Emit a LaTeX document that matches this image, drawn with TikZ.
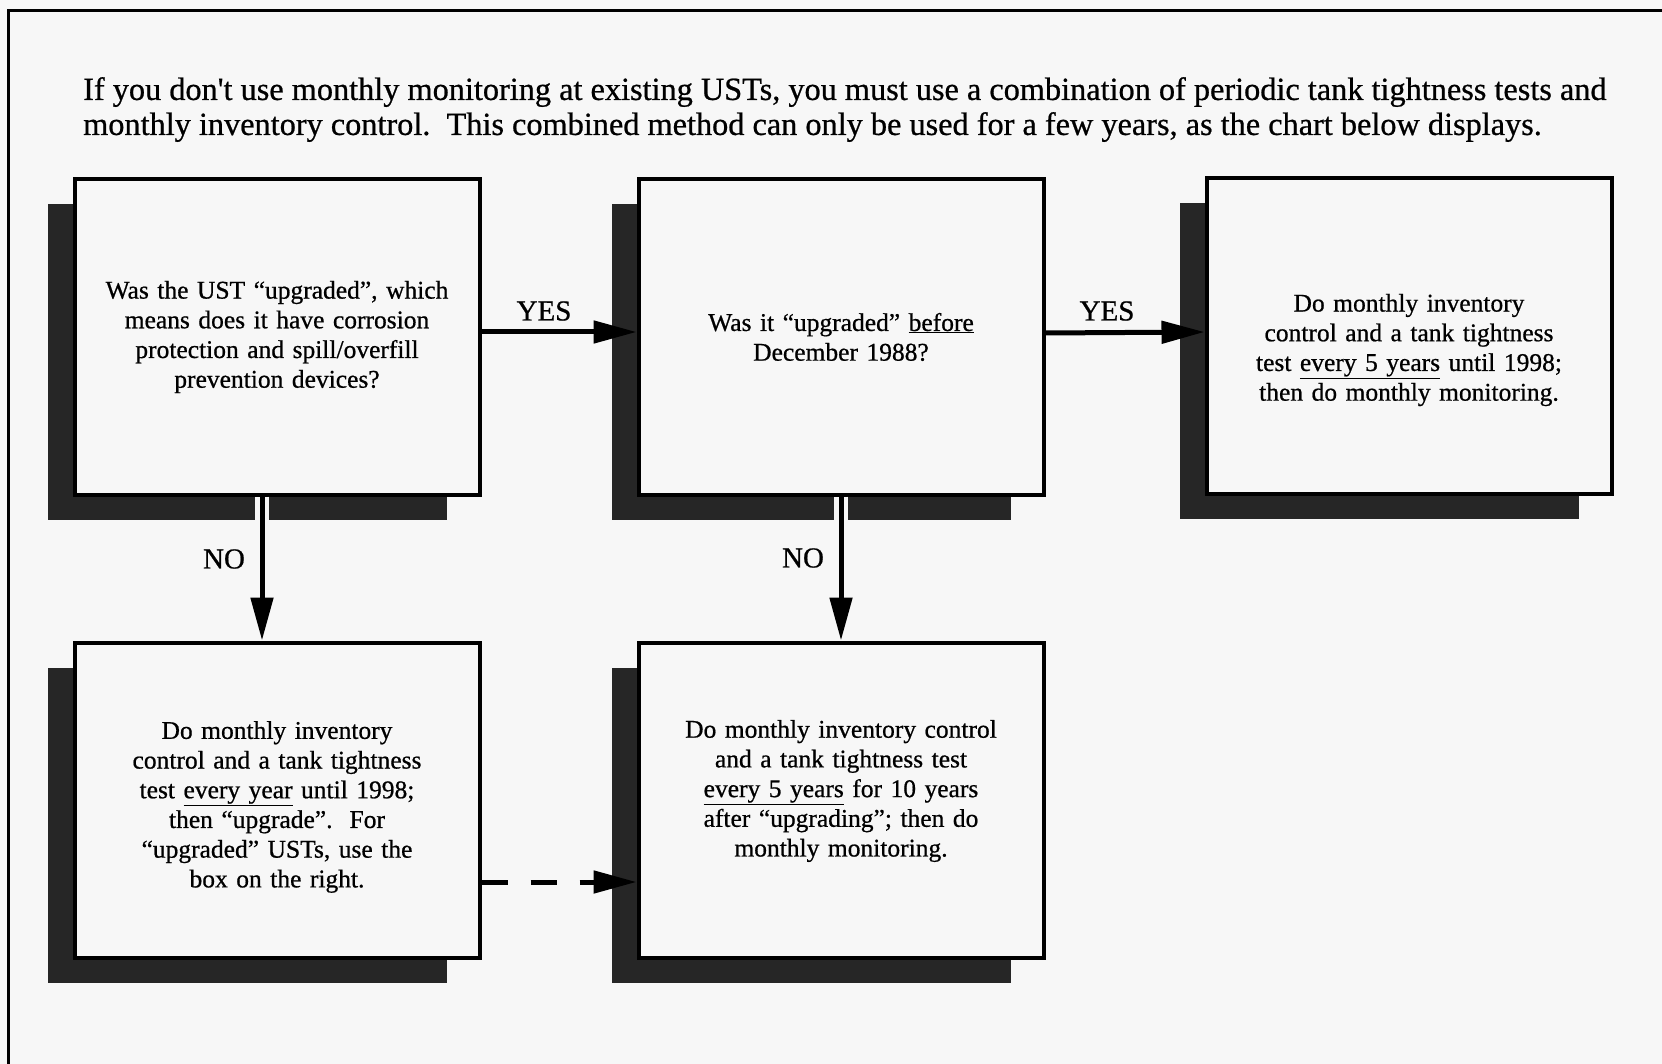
\documentclass[tikz,border=0pt]{standalone}
\usepackage{fontspec}
\setmainfont[FakeBold=0.7,AutoFakeBold=0.7]{Liberation Serif}
\newfontfamily\heavyserif[FakeBold=0.7]{Liberation Serif}
\usetikzlibrary{arrows.meta,calc,backgrounds}
\definecolor{bgc}{HTML}{F7F7F7}
\definecolor{shade}{HTML}{262626}
\tikzset{
  box/.style={draw=black, line width=4pt, fill=bgc, rectangle, inner sep=0pt,
    minimum width=405pt, minimum height=315pt},
  boxtext/.style={inner sep=0pt, text width=390pt, align=center,
    font=\heavyserif\fontsize{25.5}{29.7}\selectfont},
  conn/.style={line width=5pt, -{Triangle[length=43pt,width=22pt]}},
  lbl/.style={font=\heavyserif\fontsize{29}{34}\selectfont, inner sep=0pt},
  halo/.style={draw=bgc, line width=14pt},
  shadowbox/.style={fill=shade}
}
\begin{document}
\begin{tikzpicture}[x=1pt,y=-1pt]
\useasboundingbox (0,0) rectangle (1662,1064);
\begin{scope}[on background layer]
  \fill[bgc] (0,0) rectangle (1662,1064);
\end{scope}
\draw[line width=3pt] (8,1064) -- (8,11) -- (1662,11);

\node[anchor=north west, align=left, inner sep=0pt, font=\heavyserif\fontsize{32.3}{35}\selectfont] (head) at (83,77)
  {If you don\textquotesingle t use monthly monitoring at existing USTs, you must use a combination of periodic tank tightness tests and\\
   monthly inventory control.\ \ This combined method can only be used for a few years, as the chart below displays.};

\node[box] (b1) at (277,337) {};
\node[box] (b2) at (841,337) {};
\node[box] (b3) at (1409,336) {};
\node[box] (b4) at (277,800) {};
\node[box] (b5) at (841,800) {};

\node[boxtext] (t1) at ($(b1.center)+(0,0)$) {Was the UST “upgraded”, which\\ means does it have corrosion\\ protection and spill/overfill\\ prevention devices?};
\node[boxtext] (t2) at ($(b2.center)+(0,0)$) {Was it “upgraded” \underline{before}\\ December 1988?};
\node[boxtext] (t3) at ($(b3.center)+(0,14)$) {Do monthly inventory\\ control and a tank tightness\\ test \underline{every 5 years} until 1998;\\ then do monthly monitoring.};
\node[boxtext] (t4) at ($(b4.center)+(0,7)$) {Do monthly inventory\\ control and a tank tightness\\ test \underline{every year} until 1998;\\ then “upgrade”.\ \ For\\ “upgraded” USTs, use the\\ box on the right.};
\node[boxtext] (t5) at ($(b5.center)+(0,-9)$) {Do monthly inventory control\\ and a tank tightness test\\ \underline{every 5 years} for 10 years\\ after “upgrading”; then do\\ monthly monitoring.};

\begin{scope}[on background layer]
  \foreach \b in {b1,b2,b3,b4,b5}{
    \fill[shadowbox] ($(\b.north west)+(-25,27)$) rectangle ($(\b.south east)+(-35,23)$);
  }
\end{scope}

% halos where arrows cross shadows
\draw[halo] ($(b1.south)+(-15,0)$) -- ++(0,28);
\draw[halo] (b2.south) -- ++(0,28);

\draw[conn] ($(b1.east)+(0,-5)$) -- ($(b2.west)+(0,-5)$);
\draw[conn] ($(b2.east)+(0,-4)$) -- ($(b3.west)+(0,-4)$);
\draw[conn] ($(b1.south)+(-15,0)$) -- ($(b4.north)+(-15,0)$);
\draw[conn] (b2.south) -- (b5.north);
\draw[conn, dash pattern=on 26pt off 23pt] ($(b4.east)+(0,82)$) -- ($(b5.west)+(0,82)$);

\node[lbl] (yes1) at (544,311) {YES};
\node[lbl] (yes2) at (1107,311) {YES};
\node[lbl] (no1) at (224,559) {NO};
\node[lbl] (no2) at (803,558) {NO};
\end{tikzpicture}
\end{document}
